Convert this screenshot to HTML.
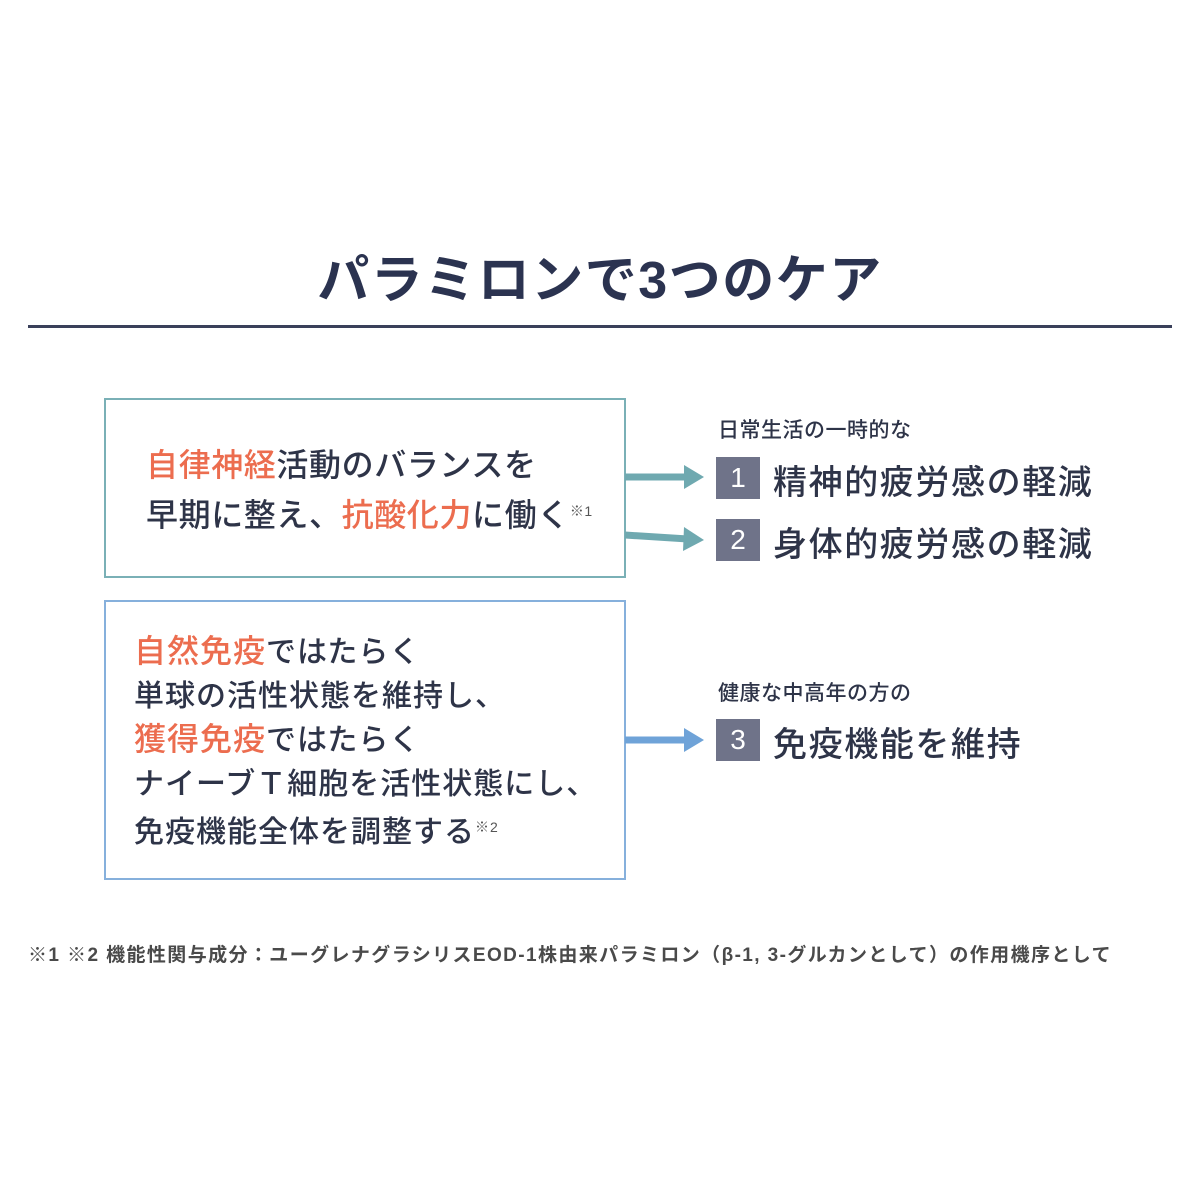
<!DOCTYPE html><html><head><meta charset="utf-8"><style>
body{margin:0;width:1200px;height:1200px;background:#fff;position:relative;font-family:"Liberation Sans","Noto Sans CJK JP",sans-serif;color:#2e3448;overflow:hidden;font-weight:500}
.a{position:absolute;white-space:nowrap}
.o{color:#ec6d4f}
.n{position:absolute;width:44px;height:42px;background:#6f7389;color:#fff;font-size:28px;text-align:center;line-height:42px}
sup{font-size:14px;vertical-align:10px;color:#555}
</style></head><body>
<div class="a" style="left:0;width:1200px;text-align:center;top:238px;font-size:52px;letter-spacing:1.5px;font-weight:bold;color:#2b3350">パラミロンで3つのケア</div>
<div class="a" style="left:28px;top:325px;width:1144px;height:3px;background:#3a405a"></div>
<div class="a" style="left:104px;top:398px;width:518px;height:176px;border:2px solid #7ab0b6"></div>
<div class="a" style="left:146px;top:442px;font-size:32px;line-height:46px;letter-spacing:0.6px">
<span class="o">自律神経</span>活動のバランスを<br>早期に整え、<span class="o">抗酸化力</span>に働く<sup>※1</sup></div>
<div class="a" style="left:104px;top:600px;width:518px;height:276px;border:2px solid #86b0dc"></div>
<div class="a" style="left:134px;top:630px;font-size:30px;line-height:43.5px;letter-spacing:1px">
<span class="o" style="font-size:32px">自然免疫</span>ではたらく<br>単球の活性状態を維持し、<br><span class="o" style="font-size:32px">獲得免疫</span>ではたらく<br>ナイーブＴ細胞を活性状態にし、<br>免疫機能全体を調整する<sup>※2</sup></div>
<svg class="a" style="left:0;top:0" width="1200" height="1200">
<g fill="#6fa9b0" stroke="#6fa9b0">
<line x1="625" y1="477" x2="688" y2="477" stroke-width="7"/><polygon points="684,465 704,477 684,489" stroke="none"/>
<line x1="625" y1="535" x2="688" y2="539" stroke-width="7"/><polygon points="684,527 704,540 683,551" stroke="none"/>
</g>
<g fill="#6fa3d8" stroke="#6fa3d8">
<line x1="625" y1="740" x2="688" y2="740" stroke-width="7"/><polygon points="684,728 704,740 684,752" stroke="none"/>
</g></svg>
<div class="a" style="left:718px;top:414px;font-size:21px;letter-spacing:0.5px">日常生活の一時的な</div>
<div class="n" style="left:716px;top:457px">1</div>
<div class="a" style="left:773px;top:455px;font-size:34px;letter-spacing:1.6px">精神的疲労感の軽減</div>
<div class="n" style="left:716px;top:519px">2</div>
<div class="a" style="left:773px;top:517px;font-size:34px;letter-spacing:1.6px">身体的疲労感の軽減</div>
<div class="a" style="left:718px;top:677px;font-size:21px;letter-spacing:0.5px">健康な中高年の方の</div>
<div class="n" style="left:716px;top:719px">3</div>
<div class="a" style="left:773px;top:717px;font-size:34px;letter-spacing:1.6px">免疫機能を維持</div>
<div class="a" style="left:28px;top:940px;font-size:19px;letter-spacing:1.4px;font-weight:bold;color:#4a4a4a">※1 ※2 機能性関与成分：ユーグレナグラシリスEOD-1株由来パラミロン（β-1, 3-グルカンとして）の作用機序として</div>
</body></html>
